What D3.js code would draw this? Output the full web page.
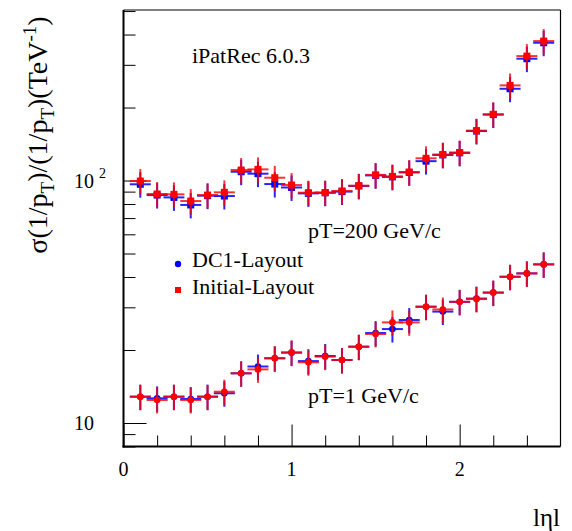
<!DOCTYPE html>
<html>
<head>
<meta charset="utf-8">
<script src="https://cdn.jsdelivr.net/npm/d3@7"></script>
<style>
  body { margin: 0; background: #fff; }
  text { font-family: "Liberation Serif", "DejaVu Serif", serif; fill: #000; }
</style>
</head>
<body>
<div id="chart"></div>
<script>
// |eta| bin centres
var eta = [0.1, 0.2, 0.3, 0.4, 0.5, 0.6, 0.7, 0.8, 0.9, 1.0, 1.1, 1.2, 1.3,
           1.4, 1.5, 1.6, 1.7, 1.8, 1.9, 2.0, 2.1, 2.2, 2.3, 2.4, 2.5];

// pT = 200 GeV/c
var dc1High = [96.5, 87.1, 85.2, 79.3, 86.6, 86.3, 108.7, 106.7, 96.7, 93.6, 88.5, 89, 90,
               95, 105, 103.5, 108, 120.2, 127.5, 130, 160, 187, 239, 318, 370];
var initHigh = [99.5, 88, 87.7, 82.3, 87.1, 89.4, 110.5, 111.2, 102.7, 95.8, 89.1, 89.2, 90.6,
                95.2, 105.5, 104, 108.4, 123.5, 128, 130.5, 160.6, 187.6, 246.8, 326, 376];

// pT = 1 GeV/c
var dc1Low = [12.84, 12.64, 12.84, 12.56, 12.84, 13.26, 16.03, 17.1, 18.49, 19.5, 18.0, 18.9, 18.19,
              20.64, 23.5, 24.4, 26.6, 30.17, 28.8, 31.6, 32.6, 34.5, 40.1, 41.4, 45.1];
var initLow = [12.84, 12.44, 12.84, 12.44, 12.84, 13.46, 16.03, 16.64, 18.49, 19.56, 17.8, 18.77, 18.19,
               20.64, 23.28, 26.0, 26.0, 30.17, 29.4, 31.6, 32.45, 34.5, 40.1, 41.4, 45.1];

var relErr = 0.12;      // relative error on each point
var etaHalfWidth = 0.0625;

var xMinor = [0.2, 0.4, 0.6, 0.8, 1.2, 1.4, 1.6, 1.8, 2.2, 2.4];
var xMajor = [0, 1, 2];
var yMinor = [8, 9, 20, 30, 40, 50, 60, 70, 80, 90, 200, 300, 400, 500];
var yMajor = [10, 100];

var width = 572,
    height = 531,
    pLeft = 123.5, pRight = 560.5, pTop = 10, pBottom = 446.5;

var svg = d3.select("#chart")
    .append("svg")
    .attr("width", width)
    .attr("height", height);

var x = d3.scaleLinear().domain([0, 2.6]).range([pLeft, pRight]);
var y = d3.scaleLog().domain([8, 505]).range([pBottom, pTop]);

// frame
svg.append("line").attr("x1", pLeft).attr("x2", pRight).attr("y1", pTop).attr("y2", pTop)
    .style("stroke", "#000").style("stroke-width", 1);
svg.append("line").attr("x1", pRight).attr("x2", pRight).attr("y1", pTop).attr("y2", pBottom)
    .style("stroke", "#000").style("stroke-width", 1.2);

// y axis ticks (inside)
function yAxis(vals, size) {
    var g = svg.append("g")
        .attr("transform", "translate(" + pLeft + ",0)")
        .call(d3.axisRight(y).tickValues(vals).tickSize(size).tickFormat(""));
    g.select(".domain").remove();
    g.selectAll("line").style("stroke", "#000").style("stroke-width", 1);
}
yAxis(yMinor, 12);
yAxis(yMajor, 23);

function xAxis(vals, size) {
    var g = svg.append("g")
        .attr("transform", "translate(0," + pBottom + ")")
        .call(d3.axisTop(x).tickValues(vals).tickSize(size).tickFormat(""));
    g.select(".domain").remove();
    g.selectAll("line").style("stroke", "#000").style("stroke-width", 1);
}
xAxis(xMinor, 11);
xAxis(xMajor, 22);

svg.append("line").attr("x1", pLeft).attr("x2", pLeft).attr("y1", pTop).attr("y2", pBottom + 1)
    .style("stroke", "#000").style("stroke-width", 2);
svg.append("line").attr("x1", pLeft - 1).attr("x2", pRight).attr("y1", pBottom).attr("y2", pBottom)
    .style("stroke", "#000").style("stroke-width", 2);

// tick labels
svg.selectAll(".xlab")
    .data(xMajor)
    .enter()
    .append("text")
    .attr("x", function(d){ return x(d); })
    .attr("y", 476)
    .attr("text-anchor", "middle")
    .style("font-size", "20px")
    .text(function(d){ return d; });

svg.append("text")
    .attr("x", 94).attr("y", y(10) + 7)
    .attr("text-anchor", "end")
    .style("font-size", "20px")
    .text("10");
svg.append("text")
    .attr("x", 94).attr("y", y(100) + 7)
    .attr("text-anchor", "end")
    .style("font-size", "20px")
    .text("10");
svg.append("text")
    .attr("x", 99).attr("y", y(100) - 3)
    .style("font-size", "14px")
    .text("2");

// axis titles
svg.append("text")
    .attr("transform", "translate(47,135) rotate(-90)")
    .attr("text-anchor", "middle")
    .style("font-size", "28px")
    .html('σ(1/p<tspan font-size="19px" dy="7">T</tspan><tspan dy="-7">)/(1/p</tspan>' +
          '<tspan font-size="19px" dy="7">T</tspan><tspan dy="-7">)(TeV</tspan>' +
          '<tspan font-size="19px" dy="-11">-1</tspan><tspan dy="11">)</tspan>');

svg.append("text")
    .attr("x", 560).attr("y", 526)
    .attr("text-anchor", "end")
    .style("font-size", "25px")
    .text("lηl");

// annotations
svg.append("text").attr("x", 192).attr("y", 63).style("font-size", "22px").text("iPatRec 6.0.3");
svg.append("text").attr("x", 308).attr("y", 238).style("font-size", "22px").text("pT=200 GeV/c");
svg.append("text").attr("x", 308).attr("y", 403).style("font-size", "22px").text("pT=1 GeV/c");

// data
function series(vals, color, shape, lineOpacity) {
    var pts = eta.map(function(e, i){ return { e: e, v: vals[i] }; });
    var g = svg.append("g");
    g.selectAll(".h")
        .data(pts)
        .enter()
        .append("line")
        .attr("x1", function(d){ return x(d.e - etaHalfWidth); })
        .attr("x2", function(d){ return x(d.e + etaHalfWidth); })
        .attr("y1", function(d){ return y(d.v); })
        .attr("y2", function(d){ return y(d.v); })
        .style("stroke", color).style("stroke-width", 2).style("opacity", lineOpacity);
    g.selectAll(".v")
        .data(pts)
        .enter()
        .append("line")
        .attr("x1", function(d){ return x(d.e); })
        .attr("x2", function(d){ return x(d.e); })
        .attr("y1", function(d){ return y(d.v * (1 - relErr)); })
        .attr("y2", function(d){ return y(d.v * (1 + relErr)); })
        .style("stroke", color).style("stroke-width", 2).style("opacity", lineOpacity);
    if (shape == "square") {
        g.selectAll("rect")
            .data(pts)
            .enter()
            .append("rect")
            .attr("x", function(d){ return x(d.e) - 3.5; })
            .attr("y", function(d){ return y(d.v) - 3.5; })
            .attr("width", 7).attr("height", 7)
            .attr("fill", color);
    } else {
        g.selectAll("circle")
            .data(pts)
            .enter()
            .append("circle")
            .attr("cx", function(d){ return x(d.e); })
            .attr("cy", function(d){ return y(d.v); })
            .attr("r", 3.3)
            .attr("fill", color);
    }
}

series(dc1High, "#0000ff", "square", 0.85);
series(initHigh, "#ff0000", "square", 0.8);
series(dc1Low, "#0000ff", "circle", 0.85);
series(initLow, "#ff0000", "circle", 0.8);

// legend
svg.append("circle").attr("cx", 178).attr("cy", 264).attr("r", 3.2).attr("fill", "#0000ff");
svg.append("rect").attr("x", 175).attr("y", 287).attr("width", 6).attr("height", 6).attr("fill", "#ff0000");
svg.append("text").attr("x", 192).attr("y", 267).style("font-size", "22px").text("DC1-Layout");
svg.append("text").attr("x", 192).attr("y", 294).style("font-size", "22px").text("Initial-Layout");
</script>
</body>
</html>
